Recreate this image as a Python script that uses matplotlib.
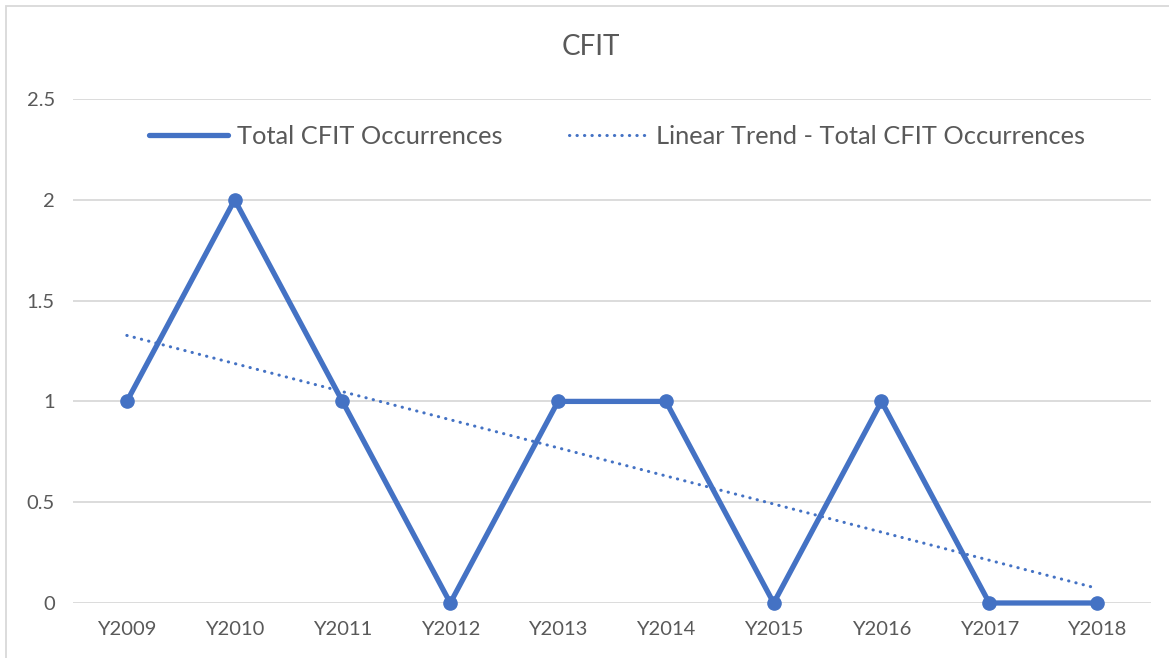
import numpy as np
import matplotlib.pyplot as plt
from matplotlib.patches import Rectangle

plt.rcParams['font.family'] = ['Lato', 'DejaVu Sans']

# donnees
annees = ['Y2009', 'Y2010', 'Y2011', 'Y2012', 'Y2013',
          'Y2014', 'Y2015', 'Y2016', 'Y2017', 'Y2018']
occurrences = [1, 2, 1, 0, 1, 1, 0, 1, 0, 0]
graduations_y = [0, 0.5, 1, 1.5, 2, 2.5]
etiquettes_y = ['0', '0.5', '1', '1.5', '2', '2.5']

bleu = '#4472C4'
gris_texte = '#595959'
gris_grille = '#D9D9D9'

fig = plt.figure(figsize=(11.69, 6.58), dpi=100)
ax = fig.add_axes([0.0624, 0.0836, 0.9222, 0.7659])

x = np.arange(len(annees))
y = np.array(occurrences, dtype=float)

# tendance lineaire (moindres carres, comme Excel)
pente, origine = np.polyfit(x, y, 1)
tendance = pente * x + origine

ligne, = ax.plot(x, y, color=bleu, lw=3.8, marker='o', markersize=9.5,
                 solid_joinstyle='miter', label='Total CFIT Occurrences', zorder=3)
tend, = ax.plot(x, tendance, color=bleu, lw=2.2, linestyle=(0, (0.1, 2.35)),
                dash_capstyle='round',
                label='Linear Trend - Total CFIT Occurrences', zorder=2)

ax.set_xlim(-0.5, len(annees) - 0.5)
ax.set_ylim(0, 2.5)
ax.set_xticks(x)
ax.set_xticklabels(annees)
ax.set_yticks(graduations_y)
ax.set_yticklabels(etiquettes_y)
ax.tick_params(axis='both', length=0, colors=gris_texte, labelsize=14.5)
ax.tick_params(axis='x', pad=13)
ax.tick_params(axis='y', pad=13)
ax.yaxis.grid(True, color=gris_grille, lw=1.3)
ax.set_axisbelow(True)
for s in ax.spines.values():
    s.set_visible(False)
for l in (ligne, tend):
    l.set_clip_on(False)

fig.text(0.5055, 0.928, 'CFIT', ha='center', va='center', fontsize=20, color=gris_texte)

leg = fig.legend(handles=[ligne, tend], loc='center', bbox_to_anchor=(0.528, 0.792),
                 ncol=2, frameon=False, fontsize=18.3, handlelength=3.1,
                 handletextpad=0.35, columnspacing=2.6, labelcolor=gris_texte)
leg.legend_handles[0].set_marker('')
leg.legend_handles[0].set_solid_capstyle('round')

# cadre du graphique
fig.patches.append(Rectangle((6 / 1169, -0.2), 1.3, 1.2 - 6 / 658,
                             transform=fig.transFigure, fill=False,
                             edgecolor=gris_grille, lw=1.3))

fig.savefig('out.png', dpi=100)
